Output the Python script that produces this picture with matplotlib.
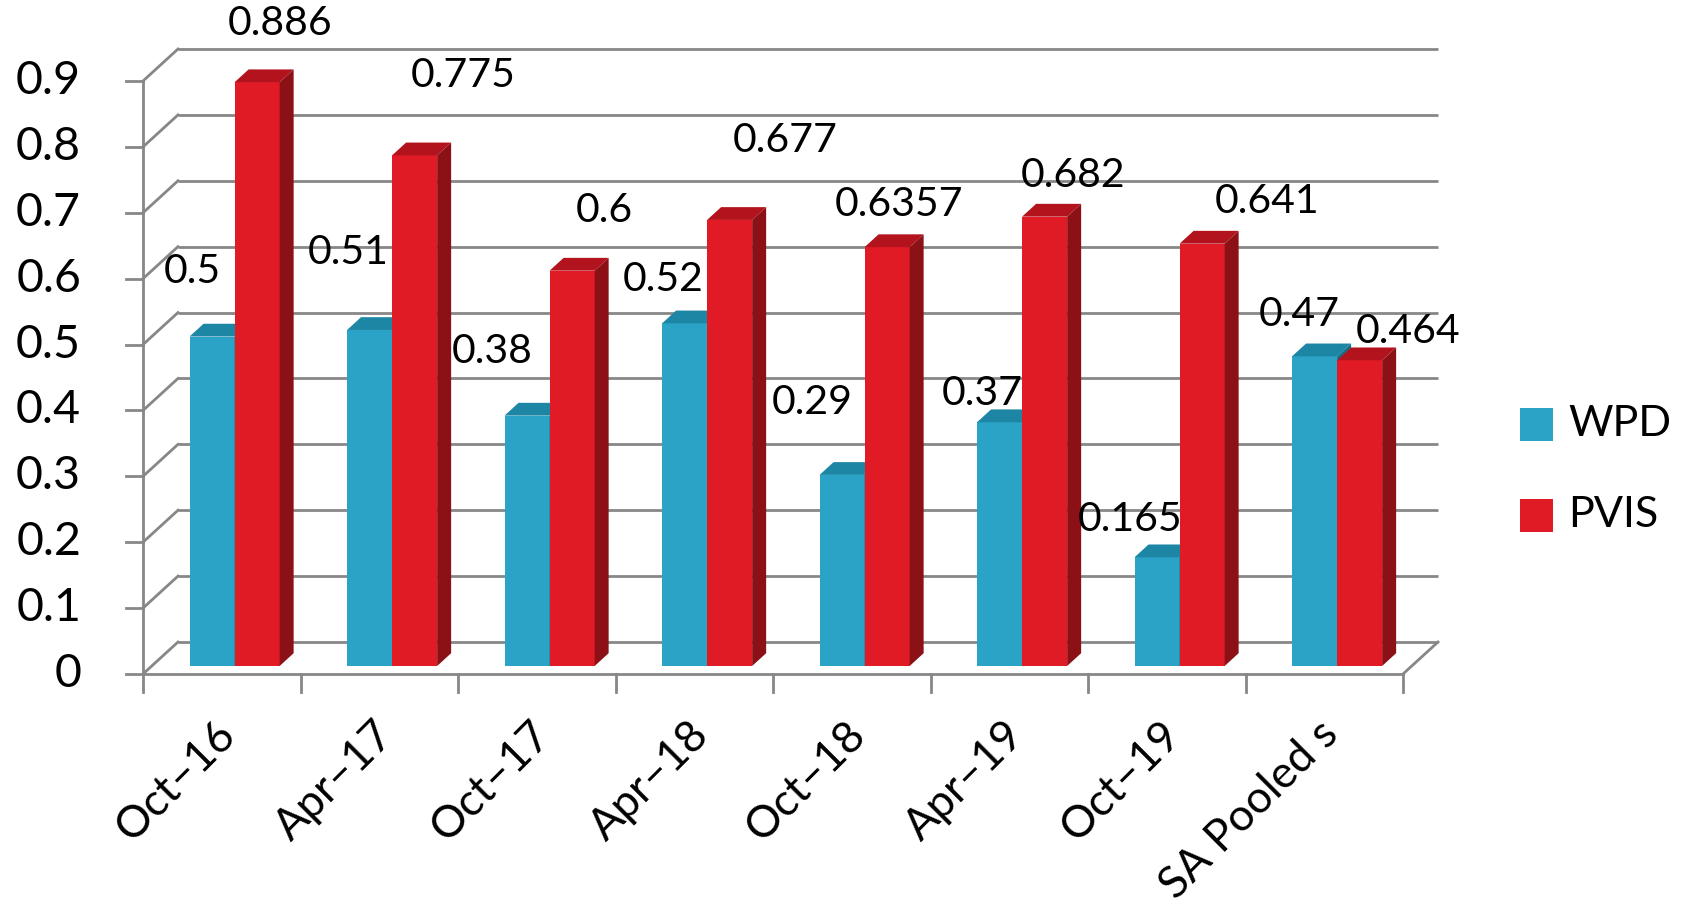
import matplotlib
matplotlib.use("Agg")
import matplotlib.pyplot as plt
from matplotlib.patches import Polygon, Rectangle

plt.rcParams['font.family'] = ['Lato', 'DejaVu Sans']

# ---- data ----
categories = ["Oct–16", "Apr–17", "Oct–17", "Apr–18", "Oct–18", "Apr–19", "Oct–19", "SA Pooled s"]
wpd = [0.5, 0.51, 0.38, 0.52, 0.29, 0.37, 0.165, 0.47]
pvis = [0.886, 0.775, 0.6, 0.677, 0.6357, 0.682, 0.641, 0.464]
wpd_labels = ["0.5", "0.51", "0.38", "0.52", "0.29", "0.37", "0.165", "0.47"]
pvis_labels = ["0.886", "0.775", "0.6", "0.677", "0.6357", "0.682", "0.641", "0.464"]
yticks = [0, 0.1, 0.2, 0.3, 0.4, 0.5, 0.6, 0.7, 0.8, 0.9]
ytick_labels = ["0", "0.1", "0.2", "0.3", "0.4", "0.5", "0.6", "0.7", "0.8", "0.9"]
series_names = ["WPD", "PVIS"]

# ---- layout / style ----
W, H = 1688, 907
fig = plt.figure(figsize=(W / 100, H / 100), dpi=100)
x0, x1, y0, y1 = 143, 1403, 674, 81  # pixel frame of the front plane
ax = fig.add_axes([x0 / W, (H - y0) / H, (x1 - x0) / W, (y0 - y1) / H])
n = len(categories)
ymax = 0.9
ax.set_xlim(0, n)
ax.set_ylim(0, ymax)
ax.axis('off')

px_x = (x1 - x0) / n          # pixels per category
px_y = (y0 - y1) / ymax       # pixels per unit value
DX = 35 / px_x
DY = 32 / px_y
grid_c = '#878787'
glw = 2.0

# back wall gridlines + left wall diagonals + y ticks
for v in yticks:
    ax.plot([DX, n + DX], [v + DY, v + DY], color=grid_c, lw=glw, zorder=1, clip_on=False, solid_capstyle='butt')
    ax.plot([0, DX], [v, v + DY], color=grid_c, lw=glw, zorder=1, clip_on=False)
    ax.plot([-17 / px_x, 0], [v, v], color=grid_c, lw=glw, zorder=1, clip_on=False)
# front y axis
ax.plot([0, 0], [0, ymax], color=grid_c, lw=glw, zorder=1, clip_on=False)
# floor
ax.plot([0, n], [0, 0], color=grid_c, lw=glw, zorder=1, clip_on=False)
ax.plot([n, n + DX], [0, DY], color=grid_c, lw=glw, zorder=1, clip_on=False)
for i in range(n + 1):
    ax.plot([i, i], [0, -18 / px_y], color=grid_c, lw=glw, zorder=1, clip_on=False)

# y tick labels
for v, s in zip(yticks, ytick_labels):
    ax.text(-62 / px_x, v, s, ha='right', va='center', fontsize=33.5, color='black', clip_on=False)

# bars
bw = 0.286
start = 0.24
f_front = 0.25
f_depth = 0.40
cols = {
    "WPD": ('#2BA3C6', '#1E86A5', '#176E89'),
    "PVIS": ('#E11B26', '#B3131C', '#8C1117'),
}
ox, oy = f_front * DX, f_front * DY
bx, by = f_depth * DX, f_depth * DY


def bar3d(xl, val, colors):
    front, top, side = colors
    xr = xl + bw
    xl_, xr_ = xl + ox, xr + ox
    b, t = oy, val + oy
    ax.add_patch(Polygon([(xl_, b), (xr_, b), (xr_, t), (xl_, t)], closed=True,
                         facecolor=front, edgecolor='none', zorder=3, clip_on=False))
    ax.add_patch(Polygon([(xl_, t), (xr_, t), (xr_ + bx, t + by), (xl_ + bx, t + by)], closed=True,
                         facecolor=top, edgecolor='none', zorder=3, clip_on=False))
    ax.add_patch(Polygon([(xr_, b), (xr_ + bx, b + by), (xr_ + bx, t + by), (xr_, t)], closed=True,
                         facecolor=side, edgecolor='none', zorder=3, clip_on=False))


for i in range(n):
    bar3d(i + start, wpd[i], cols["WPD"])
    bar3d(i + start + bw, pvis[i], cols["PVIS"])

# data labels (Excel 3-D label placement)
wpd_lab_off = [(0.31, 0.111), (0.30, 0.13), (0.22, 0.11), (0.30, 0.078), (0.25, 0.122), (0.33, 0.055), (0.27, 0.069), (0.34, 0.075)]
pvis_lab_off = [(0.87, 0.101), (1.03, 0.133), (0.93, 0.103), (1.08, 0.133), (0.80, 0.077), (0.905, 0.074), (1.14, 0.076), (1.03, 0.056)]
for i in range(n):
    ax.text(i + wpd_lab_off[i][0], wpd[i] + wpd_lab_off[i][1], wpd_labels[i], ha='center', va='center',
            fontsize=29.5, color='black', zorder=5, clip_on=False)
    ax.text(i + pvis_lab_off[i][0], pvis[i] + pvis_lab_off[i][1], pvis_labels[i], ha='center', va='center',
            fontsize=29.5, color='black', zorder=5, clip_on=False)

# category labels
for i, c in enumerate(categories):
    ax.text(i + 0.55, -54 / px_y, c, rotation=45, rotation_mode='anchor', ha='right', va='center',
            fontsize=32, color='black', clip_on=False)

# legend
leg_items = [(series_names[0], cols["WPD"][0], 424), (series_names[1], cols["PVIS"][0], 515)]
for name, c, yc in leg_items:
    fig.add_artist(Rectangle((1520 / W, (H - yc - 16.5) / H), 33 / W, 33 / H,
                             transform=fig.transFigure, facecolor=c, edgecolor='none'))
    fig.text(1568 / W, (H - yc) / H, name, ha='left', va='center', fontsize=31, color='black')

fig.savefig("out.png", dpi=100, facecolor='white')
